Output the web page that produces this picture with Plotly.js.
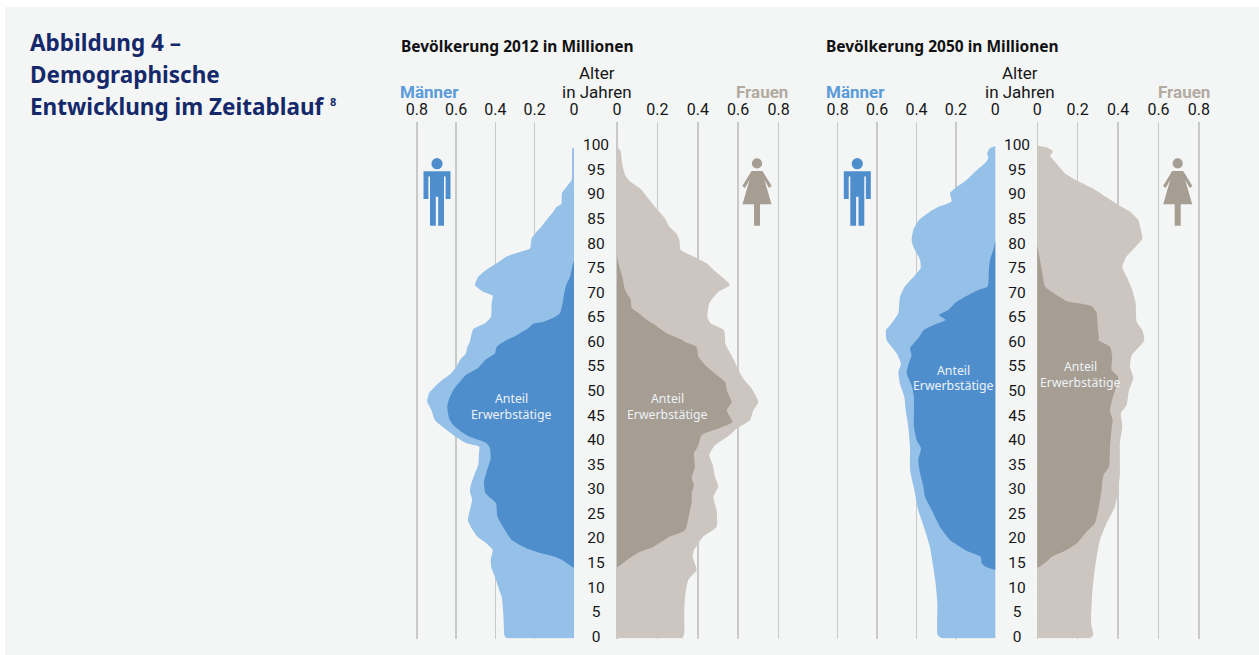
<!DOCTYPE html>
<html>
<head>
<meta charset="utf-8">
<script src="https://cdn.plot.ly/plotly-3.0.1.min.js"></script>
<style>html,body{margin:0;padding:0;background:#fff;overflow:hidden}#chart{width:1259px;height:655px}</style>
</head>
<body>
<div id="chart"></div>
<script>
// Population by single age, in millions: total and employed, men and women, 2012 and 2050.
var ageMen2012 = [99.4,95,93,91.6,90.3,88,87.5,86.5,85,83.5,82,81,79,78.4,77.4,76,74.7,73.3,71.6,70.2,69.4,67.9,65.1,63.8,62.6,61,60,59,57.7,56.3,55,53.6,52.3,50.9,49.6,47.9,46.1,44.1,42.4,41.1,39.4,38.7,37.3,35,33.3,30.9,29.6,27.9,25.8,23.8,22.1,20.4,19,17.7,15.6,13.9,12.2,9.5,8.2,4.8,2.1,0.4,-0.3];
var totalMen2012 = [.010,.010,.012,.037,.061,.065,.088,.105,.136,.165,.199,.216,.224,.267,.343,.394,.445,.487,.504,.462,.414,.419,.423,.453,.513,.525,.530,.543,.550,.581,.598,.626,.669,.708,.737,.747,.725,.708,.657,.615,.547,.482,.484,.487,.504,.525,.530,.518,.530,.540,.521,.492,.445,.414,.424,.419,.402,.380,.368,.360,.357,.355,.343];
var ageMenWork2012 = [76.5,75.7,73.3,71.3,69.6,67.9,65.9,65.1,64.1,63.7,62.8,61,60.4,59,57.7,56.3,54.6,53.3,51.9,50.2,48.5,46.8,44.4,43.1,41.7,40.7,39.4,38.4,36.3,34.2,31.5,29.2,27.2,24.5,21.7,19.7,18,17,16.3,15.6,14.3,14];
var workMen2012 = [0,.007,.020,.042,.051,.058,.071,.097,.156,.207,.233,.309,.343,.394,.402,.453,.492,.550,.581,.615,.635,.645,.635,.615,.572,.530,.445,.428,.424,.440,.458,.450,.397,.390,.351,.317,.241,.165,.097,.058,.012,0];

var ageWomen2012 = [99.7,98.8,96.4,94,92.7,91,89.6,87.5,85.1,83.5,82,80.8,78.7,77.4,76,74.7,73.3,71.6,70.2,69.2,67.9,65.1,63.8,62.4,60.7,59.7,58.4,56.3,54.3,52.3,50.5,47.8,46.1,44.1,42.4,41.1,39,37,35,32.6,30.6,28.5,25.8,22.4,20.4,19,17.7,16.3,13.6,11.6,8.2,4.8,0.7,-0.3];
var totalWomen2012 = [0,.018,.025,.040,.064,.122,.147,.188,.238,.259,.295,.309,.315,.378,.444,.477,.518,.559,.502,.480,.457,.447,.464,.530,.535,.536,.551,.579,.601,.629,.667,.700,.675,.658,.592,.559,.485,.457,.474,.485,.502,.477,.493,.493,.427,.403,.381,.375,.394,.353,.337,.333,.333,.325];
var ageWomenWork2012 = [77.6,76,73.3,70.6,68.6,66.9,65.9,64.5,63.2,61.8,60.5,60,59,57,55,53,51.9,49.9,47.8,46.1,43.7,42.4,41.1,39,37.3,34.6,32.3,30.9,29.2,27.5,25.1,21.7,20.4,18.3,17.3,15.6,14.1];
var workWomen2012 = [0,.007,.026,.040,.068,.073,.106,.147,.196,.246,.320,.337,.394,.403,.444,.502,.535,.546,.568,.543,.571,.502,.419,.403,.381,.386,.370,.381,.370,.370,.358,.337,.262,.180,.114,.048,0];

var ageMen2050 = [99.9,99.4,98.4,97.4,96.4,94.3,92.7,91.3,90.3,88.6,87.5,86.5,84.8,82.8,80.7,79.4,76.7,75,73.6,71.3,69.2,65.9,63.8,62.4,60.4,59.7,57.7,55.6,53.9,51.5,48.9,46.1,42.8,38.7,34,29.9,25.8,21.7,18.3,14.3,10.9,6.9,0.4,-0.3];
var totalMen2050 = [0,.027,.041,.036,.052,.112,.154,.205,.230,.222,.289,.332,.387,.416,.425,.416,.382,.379,.408,.459,.484,.492,.526,.555,.552,.540,.501,.479,.492,.484,.462,.455,.442,.433,.433,.411,.391,.357,.332,.315,.303,.294,.293,.272];
var ageMenWork2050 = [80.6,78.7,77,75,71.3,70.6,69.2,67.9,66.5,65.5,64.5,63.4,62.4,60.7,60.4,58.7,57.3,55.3,53.6,51.2,48.9,42.8,40,38.4,36,33.3,30.6,28.5,25.8,22.4,19.7,17.7,16.3,15,14.3,13.6];
var workMen2050 = [0,.010,.025,.032,.039,.086,.154,.205,.239,.286,.252,.315,.365,.391,.399,.433,.425,.442,.450,.425,.413,.413,.399,.377,.391,.382,.365,.357,.323,.281,.230,.154,.074,.069,.052,0];

var ageWomen2050 = [100,99.6,98.8,97.9,96.7,94.3,92.7,91,89,87.5,86.5,84.8,82.8,81,79.4,77.4,75.3,73.3,70.6,67.9,64.1,62.4,60.7,60,58.7,57.3,55,52.6,50.2,47.2,45.5,42.8,39.4,33.3,29.9,26.5,23.1,19.7,16.3,12.9,8.9,2.8,0.4,-0.3];
var totalWomen2050 = [0,.046,.078,.064,.087,.137,.203,.285,.360,.417,.459,.500,.513,.520,.487,.442,.421,.442,.470,.487,.492,.520,.530,.525,.497,.467,.459,.475,.454,.442,.414,.421,.409,.409,.401,.384,.343,.310,.294,.282,.272,.266,.277,.261];
var ageWomenWork2050 = [79.7,76.7,74,71.3,70,68.3,67.8,67.3,65.9,63.2,60.7,60.4,59,57,54.3,52.9,51.2,49.1,46.1,44.1,42.4,38.7,34.6,32.9,29.9,26.5,23.1,21.4,19,17.7,16.3,15.6,14.3,14];
var workWomen2050 = [0,.013,.025,.038,.079,.145,.219,.269,.294,.299,.305,.302,.360,.371,.368,.401,.393,.376,.360,.373,.368,.360,.355,.327,.318,.305,.285,.244,.195,.145,.071,.054,.013,0];

var ageTicks = [0,5,10,15,20,25,30,35,40,45,50,55,60,65,70,75,80,85,90,95,100];
var valueTicks = [0,0.2,0.4,0.6,0.8];
var valueTickLabels = ['0','0.2','0.4','0.6','0.8'];

var W = 1259, H = 655;
var FONT = '"Noto Sans", "Open Sans", sans-serif';
// The tightly stacked axis header uses a face with compact line metrics.
var AXIS_FONT = 'Roboto, "Noto Sans", sans-serif';
var COLORS = {menTotal:'#95c0e8', menWork:'#4f8ecc', womenTotal:'#cdc6c0', womenWork:'#a69d93',
              grid:'#c9c9c9', panel:'#f4f6f6', navy:'#15296a', menLabel:'#5b9bd8', womenLabel:'#b3aaa1', ink:'#161616'};

function px(x){ return x / W; }
function py(y){ return 1 - y / H; }

// One population axis: zero sits at zeroPx, values grow outwards by pxPerUnit in direction dir.
function valueAxis(zeroPx, pxPerUnit, dir){
  var lo = -0.005, hi = 0.81;
  var a = zeroPx + dir * lo * pxPerUnit, b = zeroPx + dir * hi * pxPerUnit;
  return {
    domain: [px(Math.min(a, b)), px(Math.max(a, b))],
    range: dir < 0 ? [hi, lo] : [lo, hi],
    anchor: 'y', side: 'top', fixedrange: true,
    tickmode: 'array', tickvals: valueTicks, ticktext: valueTickLabels,
    ticks: '', ticklen: 0, ticklabelstandoff: 3, tickfont: {family: AXIS_FONT, size: 16, color: COLORS.ink},
    showgrid: true, gridcolor: COLORS.grid, gridwidth: 1.5,
    zeroline: false, showline: false
  };
}
function labelAxis(a, b){
  return {domain: [px(a), px(b)], range: [0, 1], anchor: 'y2', visible: false, fixedrange: true};
}

function area(xa, ages, vals, color, name){
  return {type: 'scatter', mode: 'lines', xaxis: xa, yaxis: 'y', x: vals, y: ages, fill: 'tozerox',
          fillcolor: color, line: {width: 0, color: color, shape: 'spline', smoothing: 0.5}, name: name, hoverinfo: 'skip', showlegend: false};
}
function ageLabels(xa){
  return {type: 'scatter', mode: 'text', xaxis: xa, yaxis: 'y2', x: ageTicks.map(function(){ return 0.5; }), y: ageTicks,
          text: ageTicks.map(String), textposition: 'middle center', cliponaxis: false,
          textfont: {family: AXIS_FONT, size: 15.5, color: COLORS.ink}, hoverinfo: 'skip', showlegend: false};
}

var traces = [
  area('x', ageMen2012, totalMen2012, COLORS.menTotal, 'Männer 2012'),
  area('x', ageMenWork2012, workMen2012, COLORS.menWork, 'Erwerbstätige Männer 2012'),
  area('x2', ageWomen2012, totalWomen2012, COLORS.womenTotal, 'Frauen 2012'),
  area('x2', ageWomenWork2012, workWomen2012, COLORS.womenWork, 'Erwerbstätige Frauen 2012'),
  ageLabels('x3'),
  area('x4', ageMen2050, totalMen2050, COLORS.menTotal, 'Männer 2050'),
  area('x4', ageMenWork2050, workMen2050, COLORS.menWork, 'Erwerbstätige Männer 2050'),
  area('x5', ageWomen2050, totalWomen2050, COLORS.womenTotal, 'Frauen 2050'),
  area('x5', ageWomenWork2050, workWomen2050, COLORS.womenWork, 'Erwerbstätige Frauen 2050'),
  ageLabels('x6')
];

// Annotations carry about 1px of padding, so anchored edges are nudged by that amount.
function text(x, y, str, size, color, bold, anchor, family){
  var nudge = anchor === 'right' ? 1 : (anchor === 'center' ? 0 : -1);
  return {xref: 'paper', yref: 'paper', x: px(x + nudge), y: py(y), text: bold ? '<b>' + str + '</b>' : str, showarrow: false,
          xanchor: anchor || 'left', yanchor: 'middle', align: anchor || 'left', borderpad: 0,
          font: {family: family || FONT, size: size, color: color}};
}

var annotations = [
  text(30, 42.5, 'Abbildung 4 –', 22.5, COLORS.navy, true),
  text(30, 74, 'Demographische', 22.5, COLORS.navy, true),
  text(30, 106, 'Entwicklung im Zeitablauf', 22.5, COLORS.navy, true),
  text(330, 102, '8', 11, COLORS.navy, true),
  text(401, 46, 'Bevölkerung 2012 in Millionen', 15.5, '#111111', true),
  text(826, 46, 'Bevölkerung 2050 in Millionen', 15.5, '#111111', true),
  text(597, 73, 'Alter', 17, COLORS.ink, false, 'center', AXIS_FONT),
  text(597, 92, 'in Jahren', 17, COLORS.ink, false, 'center', AXIS_FONT),
  text(1020, 73, 'Alter', 17, COLORS.ink, false, 'center', AXIS_FONT),
  text(1020, 92, 'in Jahren', 17, COLORS.ink, false, 'center', AXIS_FONT),
  text(399.5, 92, 'Männer', 17, COLORS.menLabel, true, 'left', AXIS_FONT),
  text(825.5, 92, 'Männer', 17, COLORS.menLabel, true, 'left', AXIS_FONT),
  text(788, 92, 'Frauen', 17, COLORS.womenLabel, true, 'right', AXIS_FONT),
  text(1210, 92, 'Frauen', 17, COLORS.womenLabel, true, 'right', AXIS_FONT),
  text(511, 399, 'Anteil', 12.3, '#eef2f6', false, 'center'),
  text(511, 414, 'Erwerbstätige', 12.3, '#eef2f6', false, 'center'),
  text(667.5, 399, 'Anteil', 12.3, '#eef2f6', false, 'center'),
  text(667.5, 414, 'Erwerbstätige', 12.3, '#eef2f6', false, 'center'),
  text(953, 370, 'Anteil', 12.3, '#eef2f6', false, 'center'),
  text(953, 385, 'Erwerbstätige', 12.3, '#eef2f6', false, 'center'),
  text(1080.5, 367, 'Anteil', 12.3, '#eef2f6', false, 'center'),
  text(1080.5, 382, 'Erwerbstätige', 12.3, '#eef2f6', false, 'center')
];

// Pictograms are built from pixel outlines relative to the figure's centre line.
function polygon(cx, pts){
  return pts.map(function(p, i){
    return (i ? 'L' : 'M') + px(cx + p[0]).toFixed(5) + ',' + py(p[1]).toFixed(5);
  }).join(' ') + ' Z';
}
function iconShape(path, color){
  return {type: 'path', xref: 'paper', yref: 'paper', path: path, fillcolor: color, line: {width: 0}, layer: 'above'};
}
function head(cx, cy, r, color){
  return {type: 'circle', xref: 'paper', yref: 'paper', x0: px(cx - r), x1: px(cx + r), y0: py(cy + r), y1: py(cy - r),
          fillcolor: color, line: {width: 0}, layer: 'above'};
}
function manIcon(cx){
  return [
    head(cx, 163.7, 5.6, COLORS.menWork),
    iconShape(polygon(cx, [[-13.5,171.3],[13.5,171.3],[13.5,199],[8.6,199],[8.6,176.5],[7,176.5],[7,225.7],[1.2,225.7],[1.2,196.7],[-1.2,196.7],[-1.2,225.7],[-7,225.7],[-7,176.5],[-8.6,176.5],[-8.6,199],[-13.5,199]]), COLORS.menWork)
  ];
}
function womanIcon(cx){
  return [
    head(cx, 163.4, 5.1, COLORS.womenWork),
    iconShape(polygon(cx, [[-5.5,171],[5.5,171],[14.7,186],[12,188],[7.5,180],[14.5,204.3],[3,204.3],[3,225.7],[-3,225.7],[-3,204.3],[-14.5,204.3],[-7.5,180],[-12,188],[-14.7,186]]), COLORS.womenWork)
  ];
}

var shapes = [{type: 'rect', xref: 'paper', yref: 'paper', x0: px(5), x1: 1, y0: 0, y1: py(7),
               fillcolor: COLORS.panel, line: {width: 0}, layer: 'below'}]
  .concat(manIcon(437), womanIcon(757), manIcon(857.3), womanIcon(1177.7));

var layout = {
  width: W, height: H, margin: {l: 0, r: 0, t: 0, b: 0, pad: 0},
  paper_bgcolor: '#ffffff', plot_bgcolor: 'rgba(0,0,0,0)', showlegend: false, hovermode: false,
  xaxis: valueAxis(574, 196.5, -1),
  xaxis2: valueAxis(617, 202, 1),
  xaxis3: labelAxis(576, 616),
  xaxis4: valueAxis(995.3, 197, -1),
  xaxis5: valueAxis(1037.3, 202, 1),
  xaxis6: labelAxis(998, 1036),
  yaxis: {domain: [py(638.5), py(122)], range: [-0.33, 104.76], visible: false, fixedrange: true},
  // Age labels sit one pixel below the population outlines' scale.
  yaxis2: {domain: [py(639.5), py(123)], range: [-0.33, 104.76], visible: false, fixedrange: true},
  shapes: shapes,
  annotations: annotations
};

Plotly.newPlot('chart', traces, layout, {displayModeBar: false, staticPlot: true});
</script>
</body>
</html>
